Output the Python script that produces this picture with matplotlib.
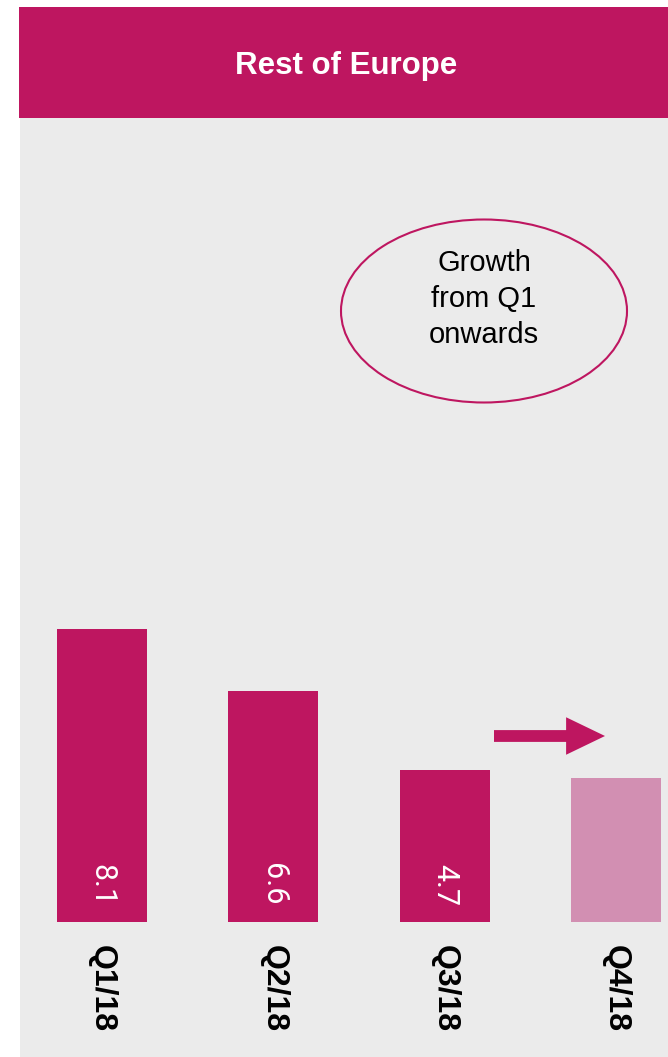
import numpy as np
import matplotlib
matplotlib.use("Agg")
import matplotlib.pyplot as plt
from matplotlib.patches import Rectangle, Ellipse

# Datos
trimestres = ["Q1/18", "Q2/18", "Q3/18", "Q4/18"]
valores = [8.1, 6.6, 4.7, 4.5]
etiquetas = ["8.1", "6.6", "4.7", ""]
base = 1.0

magenta = "#BE1660"
rosa = "#D28FB2"
gris = "#EBEBEB"
colores = [magenta, magenta, magenta, rosa]

W, H = 668, 1057
fig = plt.figure(figsize=(W / 100, H / 100), dpi=100)

# Fondo en pixeles
bg = fig.add_axes([0, 0, 1, 1])
bg.set_xlim(0, W)
bg.set_ylim(H, 0)
bg.axis("off")
bg.add_patch(Rectangle((20, 118), W - 20, H - 118, color=gris, lw=0))
bg.add_patch(Rectangle((19, 7), W - 19, 111, color=magenta, lw=0))
bg.text(346, 66, "Rest of Europe", color="white", fontsize=22.5,
        fontweight="bold", family="Liberation Sans", ha="center", va="center")
bg.add_patch(Ellipse((484, 311), 286, 183, fill=False, ec=magenta, lw=1.5))
bg.text(484, 299, "Growth\nfrom Q1\nonwards", fontsize=21, family="Liberation Sans",
        ha="center", va="center", linespacing=1.37)

# Flecha
bg.annotate("", xy=(605, 736), xytext=(494, 736),
            arrowprops=dict(arrowstyle="simple,head_length=2.8,head_width=2.7,tail_width=0.85",
                            mutation_scale=10, color=magenta, shrinkA=0, shrinkB=0, lw=0))

# Barras
x0, x1 = 20 / W, 668 / W
y0, y1 = (H - 922) / H, (H - 118) / H
ax = fig.add_axes([x0, y0, x1 - x0, y1 - y0])
ax.patch.set_alpha(0)
x = np.arange(len(trimestres))
alturas = [v - base for v in valores]
ax.bar(x, alturas, bottom=base, width=0.525, color=colores)
ax.set_xlim(-0.479, 3.304)
ax.set_ylim(1.01, 1.01 + 804 / 41.3)
ax.axis("off")

for i in range(len(trimestres)):
    if etiquetas[i]:
        ax.annotate(etiquetas[i], (x[i], base), xytext=(0, 12), textcoords="offset points",
                    rotation=-90, ha="center", va="bottom", color="white",
                    fontsize=22, family="Roboto")
    ax.annotate(trimestres[i], (x[i], base), xytext=(0, -16), textcoords="offset points",
                rotation=-90, ha="center", va="top", color="black",
                fontsize=23, family="Liberation Sans", fontweight="bold")

fig.savefig("out.png", dpi=100)
